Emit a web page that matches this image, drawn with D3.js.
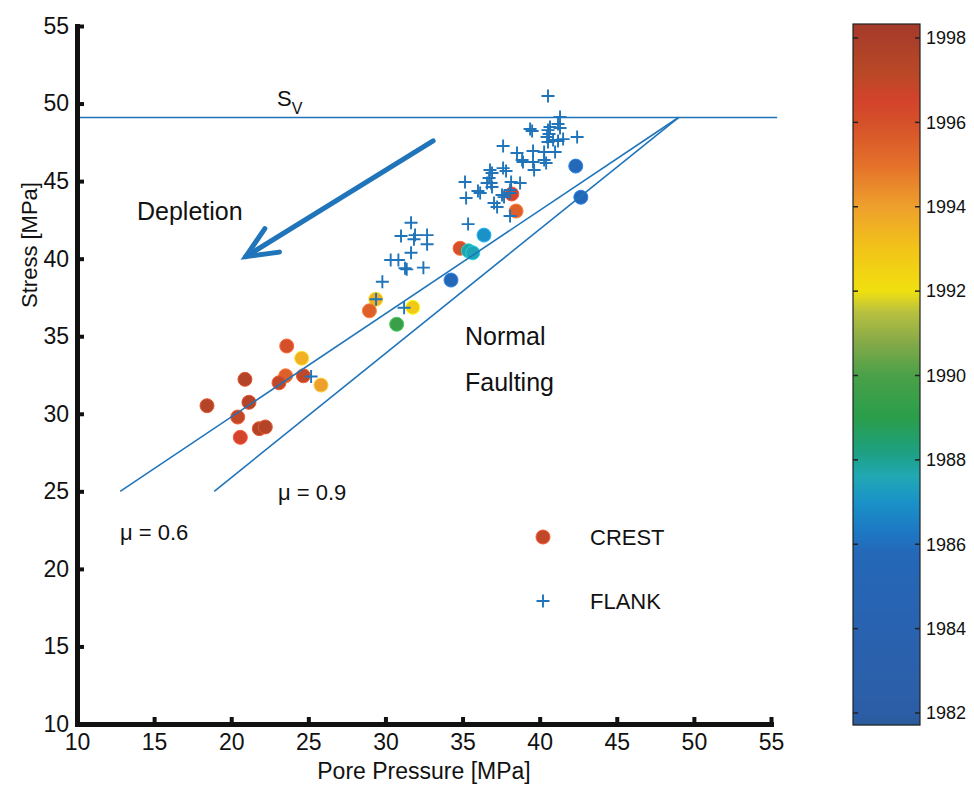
<!DOCTYPE html>
<html>
<head>
<meta charset="utf-8">
<script src="https://cdn.jsdelivr.net/npm/d3@7"></script>
<style>
  html, body { margin: 0; padding: 0; background: #ffffff; }
  svg { display: block; font-family: "Liberation Sans", Arial, Helvetica, sans-serif; }
</style>
</head>
<body>
<svg id="chart" width="974" height="785"></svg>
<script>
// Axis ticks
const xTicks = [10, 15, 20, 25, 30, 35, 40, 45, 50, 55];
const yTicks = [10, 15, 20, 25, 30, 35, 40, 45, 50, 55];
const yearTicks = [1982, 1984, 1986, 1988, 1990, 1992, 1994, 1996, 1998];

// CREST wells: pore pressure, stress, year of measurement
const crestPore   = [23.60, 24.57, 23.53, 24.68, 25.82, 23.10, 20.89, 21.15, 18.43, 20.42, 21.82, 22.21, 20.59,
                     29.37, 28.96, 31.77, 30.73, 34.25, 34.84, 35.38, 35.66, 36.39, 42.34, 42.67, 38.19, 38.47];
const crestStress = [34.37, 33.58, 32.45, 32.45, 31.85, 32.00, 32.22, 30.74, 30.52, 29.79, 29.04, 29.15, 28.48,
                     37.38, 36.64, 36.86, 35.77, 38.62, 40.67, 40.51, 40.38, 41.52, 45.97, 43.96, 44.17, 43.07];
const crestYear   = [1996.0, 1993.5, 1995.5, 1997.0, 1994.0, 1997.0, 1997.5, 1997.5, 1997.5, 1997.0, 1997.5, 1997.5, 1996.5,
                     1993.5, 1995.5, 1992.8, 1989.5, 1985.5, 1996.0, 1987.8, 1987.5, 1987.0, 1985.8, 1985.5, 1996.5, 1995.5];

// FLANK wells: pore pressure, stress
const flankPore   = [40.54, 41.32, 41.19, 41.32, 39.38, 39.51, 40.54, 40.67, 42.43, 40.48, 40.61, 40.87, 41.19, 41.52,
                     40.54, 37.63, 38.53, 38.86, 39.57, 40.29, 41.00, 38.92, 39.57, 39.64, 40.29, 40.42, 36.78, 36.91,
                     37.63, 37.82, 36.72, 36.59, 35.16, 35.23, 36.00, 36.14, 36.85, 36.91, 38.15, 38.73, 37.04, 37.24,
                     37.56, 37.69, 38.08, 38.08, 38.08, 35.36,
                     31.66, 31.01, 31.92, 32.70, 31.85, 32.70, 31.66, 30.34, 30.84, 31.27, 31.38, 32.46, 29.80, 29.39,
                     31.21, 25.18];
const flankStress = [50.49, 49.13, 48.68, 48.42, 48.36, 48.23, 48.29, 48.49, 47.84, 47.84, 48.04, 47.65, 47.59, 47.71,
                     47.52, 47.26, 46.81, 46.36, 46.94, 46.88, 46.88, 46.23, 46.23, 45.72, 46.36, 46.17, 45.72, 45.52,
                     45.84, 45.65, 45.20, 44.88, 44.94, 43.91, 44.36, 44.23, 44.88, 44.62, 44.94, 44.88, 43.59, 43.33,
                     44.10, 43.97, 44.43, 44.23, 42.75, 42.23,
                     42.32, 41.46, 41.52, 41.52, 41.25, 40.93, 40.38, 39.91, 39.91, 39.38, 39.31, 39.42, 38.51, 37.38,
                     36.84, 32.40];

// Reference lines: overburden Sv and frictional limits
const svLine   = [[10, 49.1], [55.4, 49.1]];
const mu06Line = [[12.8, 25.0], [49.0, 49.1]];
const mu09Line = [[18.9, 25.0], [49.0, 49.1]];
const depletionArrow = [[33.09, 47.59], [20.94, 40.13]];

// Colour map for years
const colorYears = [1981.7, 1982, 1984, 1985.8, 1986.3, 1987, 1987.6, 1988.2, 1989, 1990, 1990.8, 1991.5,
                    1992, 1993, 1994, 1995, 1996, 1996.5, 1997.2, 1998.3];
const colorStops = ['#2a5a9a', '#2c5ea6', '#2962b0', '#2468b8', '#1d78c4', '#1a92c8', '#20a8b4', '#1ea080',
                    '#2a9e4a', '#4aa048', '#86aa48', '#b8c040', '#f0e010', '#f2c418', '#eea02c', '#e4702a',
                    '#d5502a', '#d4432c', '#b84826', '#a53a2a'];

const svg = d3.select('#chart');
const blue = '#1f74ba';

const x = d3.scaleLinear().domain([10, 55]).range([77, 771]);
const y = d3.scaleLinear().domain([10, 55]).range([724, 26]);
const color = d3.scaleLinear().domain(colorYears).range(colorStops).clamp(true);

// CREST circles
const crest = crestPore.map((p, i) => ({ p, s: crestStress[i], yr: crestYear[i] }));
svg.append('g').selectAll('circle').data(crest).join('circle')
  .attr('cx', d => x(d.p)).attr('cy', d => y(d.s)).attr('r', 7)
  .attr('fill', d => color(d.yr))
  .attr('stroke', d => d3.color(color(d.yr)).brighter(0.7))
  .attr('stroke-width', 1);

// Lines
const line = d3.line().x(d => x(d[0])).y(d => y(d[1]));
const lines = svg.append('g').attr('fill', 'none').attr('stroke', blue).attr('stroke-width', 1.6);
[svLine, mu06Line, mu09Line].forEach(l => lines.append('path').attr('d', line(l)));

// FLANK crosses
const flank = flankPore.map((p, i) => ({ p, s: flankStress[i] }));
const cross = 6.5;
svg.append('g').attr('stroke', blue).attr('stroke-width', 1.9).selectAll('path').data(flank).join('path')
  .attr('d', d => {
    const cx = x(d.p), cy = y(d.s);
    return `M${cx - cross},${cy}H${cx + cross}M${cx},${cy - cross}V${cy + cross}`;
  });

// Depletion arrow
{
  const [t, h] = depletionArrow;
  const x0 = x(t[0]), y0 = y(t[1]), x1 = x(h[0]), y1 = y(h[1]);
  const ang = Math.atan2(y0 - y1, x0 - x1);
  const len = 34, spread = 0.42;
  const g = svg.append('g').attr('stroke', blue).attr('stroke-width', 5).attr('fill', 'none')
    .attr('stroke-linecap', 'round');
  g.append('line').attr('x1', x0).attr('y1', y0).attr('x2', x1).attr('y2', y1);
  g.append('path').attr('d',
    `M${x1 + len * Math.cos(ang + spread)},${y1 + len * Math.sin(ang + spread)}L${x1},${y1}` +
    `L${x1 + len * Math.cos(ang - spread)},${y1 + len * Math.sin(ang - spread)}`);
}

// Axes
const xAxis = svg.append('g').attr('transform', 'translate(0,724)')
  .call(d3.axisBottom(x).tickValues(xTicks).tickFormat(d3.format('d')).tickSizeInner(-7).tickSizeOuter(0).tickPadding(10));
const yAxis = svg.append('g').attr('transform', 'translate(77,0)')
  .call(d3.axisLeft(y).tickValues(yTicks).tickFormat(d3.format('d')).tickSizeInner(-7).tickSizeOuter(0).tickPadding(8));
[xAxis, yAxis].forEach(a => {
  a.select('.domain').attr('stroke', '#111').attr('stroke-width', 5).attr('stroke-linecap', 'square');
  a.selectAll('.tick line').attr('stroke', '#111').attr('stroke-width', 4);
  a.selectAll('.tick text').attr('fill', '#111').attr('font-size', 23).attr('font-family', '"Liberation Sans", Arial, sans-serif');
});

svg.append('text').attr('x', 424).attr('y', 779).attr('text-anchor', 'middle')
  .attr('font-size', 23).attr('fill', '#111').text('Pore Pressure [MPa]');
svg.append('text').attr('transform', 'translate(37,245) rotate(-90)').attr('text-anchor', 'middle')
  .attr('font-size', 22).attr('fill', '#111').text('Stress [MPa]');

// Annotations
const sv = svg.append('text').attr('x', 277).attr('y', 106).attr('font-size', 22).attr('fill', '#111');
sv.append('tspan').text('S');
sv.append('tspan').attr('dy', 8).attr('font-size', 16).text('V');
svg.append('text').attr('x', 137).attr('y', 220).attr('font-size', 25).attr('fill', '#111').text('Depletion');
svg.append('text').attr('x', 465).attr('y', 345).attr('font-size', 25).attr('fill', '#111').text('Normal');
svg.append('text').attr('x', 465).attr('y', 391).attr('font-size', 25).attr('fill', '#111').text('Faulting');
svg.append('text').attr('x', 120).attr('y', 540).attr('font-size', 22).attr('fill', '#111').text('μ = 0.6');
svg.append('text').attr('x', 278).attr('y', 500).attr('font-size', 22).attr('fill', '#111').text('μ = 0.9');

// Legend
const legend = svg.append('g');
legend.append('circle').attr('cx', 543).attr('cy', 537).attr('r', 7)
  .attr('fill', color(1997)).attr('stroke', d3.color(color(1997)).brighter(0.7));
legend.append('text').attr('x', 590).attr('y', 545).attr('font-size', 22).attr('fill', '#111').text('CREST');
legend.append('path').attr('stroke', blue).attr('stroke-width', 1.9)
  .attr('d', `M${543 - cross},601H${543 + cross}M543,${601 - cross}V${601 + cross}`);
legend.append('text').attr('x', 590).attr('y', 609).attr('font-size', 22).attr('fill', '#111').text('FLANK');

// Colour bar
const cbX0 = 853, cbX1 = 920;
const yc = d3.scaleLinear().domain([1982, 1998]).range([713, 38]);
const cbTop = 24, cbBottom = 725;
const cb = svg.append('g');
for (let py = cbTop; py < cbBottom; py++) {
  cb.append('rect').attr('x', cbX0).attr('y', py).attr('width', cbX1 - cbX0).attr('height', 1.2)
    .attr('fill', color(yc.invert(py + 0.5)));
}
cb.append('rect').attr('x', cbX0).attr('y', cbTop).attr('width', cbX1 - cbX0).attr('height', cbBottom - cbTop)
  .attr('fill', 'none').attr('stroke', '#222').attr('stroke-width', 1.2);
cb.selectAll('g.ytick').data(yearTicks).join('g').attr('class', 'ytick')
  .each(function (d) {
    const g = d3.select(this);
    const py = yc(d);
    g.append('line').attr('x1', cbX0).attr('x2', cbX0 + 5).attr('y1', py).attr('y2', py).attr('stroke', '#222').attr('stroke-width', 1.5);
    g.append('line').attr('x1', cbX1 - 5).attr('x2', cbX1).attr('y1', py).attr('y2', py).attr('stroke', '#222').attr('stroke-width', 1.5);
    g.append('text').attr('x', cbX1 + 6).attr('y', py).attr('dy', '0.35em').attr('font-size', 18)
      .attr('fill', '#111').text(d);
  });
</script>
</body>
</html>
